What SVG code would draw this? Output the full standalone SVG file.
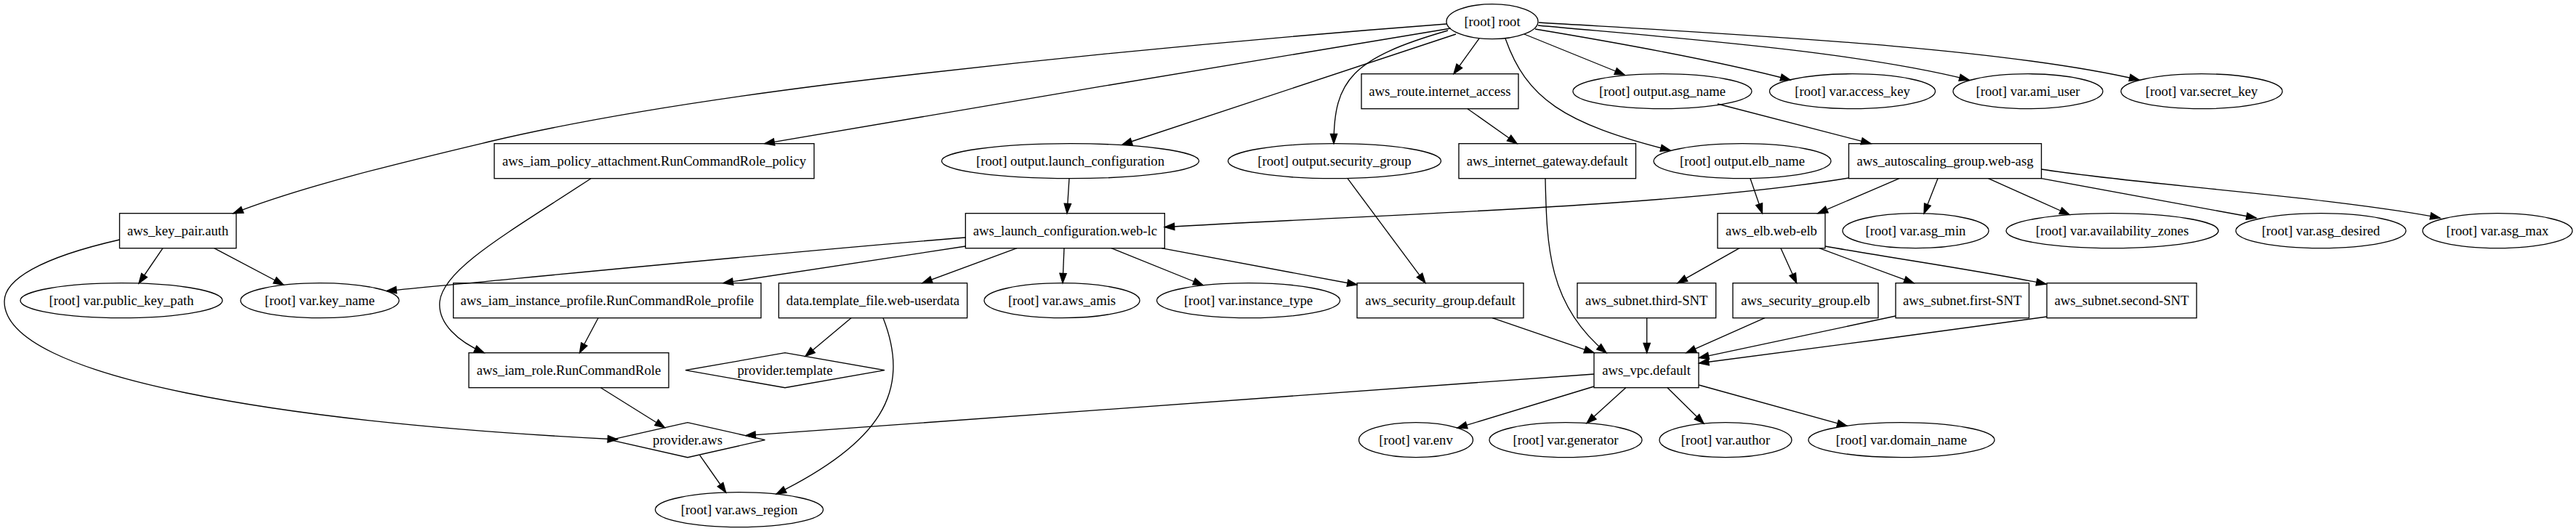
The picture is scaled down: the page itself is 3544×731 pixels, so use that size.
<svg xmlns="http://www.w3.org/2000/svg" width="3544" height="731" viewBox="0 0 3544 731">
<style>
.n ellipse,.n rect,.n polygon{fill:none;stroke:#000;stroke-width:1.33}
.n text{font-family:"Liberation Serif","Times New Roman",serif;font-size:18.67px;text-anchor:middle;fill:#000}
.e path{fill:none;stroke:#000;stroke-width:1.33;marker-end:url(#ah)}
</style>
<defs>
<marker id="ah" viewBox="0 0 13.33 9.33" refX="13.33" refY="4.67" markerWidth="13.33" markerHeight="9.33" markerUnits="userSpaceOnUse" orient="auto" overflow="visible">
<path d="M0,0 L13.33,4.67 L0,9.33 Z" fill="#000" stroke="#000" stroke-width="1.33"/>
</marker>
</defs>
<rect x="0" y="0" width="3544" height="731" fill="#fff"/>
<g id="edges" class="e">
<path d="M1990,33 C1700,55 1400,85 1150,115 C950,140 800,165 673,195 C560,222 420,255 321,293.7"/>
<path d="M1996,39 C1700,88 1350,146 1052,197.7"/>
<path d="M2003,47 L1544,199"/>
<path d="M1992,42 C1860,80 1835,110 1835,197.7"/>
<path d="M2035,53 L2000,101.7"/>
<path d="M2071,53 C2100,135 2150,170 2298,207"/>
<path d="M2097,47 L2235,103"/>
<path d="M2112,40 C2250,63 2380,88 2463,110"/>
<path d="M2116,35 C2300,52 2550,70 2709,110"/>
<path d="M2117,31 C2400,48 2750,65 2943,110"/>
<path d="M2019,149.7 L2087,197.7"/>
<path d="M2363,143 L2574,197.7"/>
<path d="M813,245.7 C700,320 610,370 605,415 C602,445 630,470 666,485.7"/>
<path d="M1471,245.7 L1468,293.7"/>
<path d="M1854,245.7 L1961,389.7"/>
<path d="M2126,245.7 C2128,340 2130,420 2210,485.7"/>
<path d="M2408,245.7 L2424.5,293.7"/>
<path d="M2543.5,245 C2300,285 1900,295 1602.3,312.7"/>
<path d="M2613,245.7 L2501,293.7"/>
<path d="M2666,245.7 L2647,294"/>
<path d="M2735.5,245.7 L2847,295.5"/>
<path d="M2808.4,245.7 L3104,300"/>
<path d="M2808.4,233 C2950,255 3200,270 3357,300"/>
<path d="M224,341.7 L191,390"/>
<path d="M294.6,341.7 L390,392"/>
<path d="M164.5,330 C55,355 6,385 6,415 C6,520 390,582 849.5,605"/>
<path d="M1328.3,327 C1100,345 800,375 532,400.5"/>
<path d="M1328.3,339 L995,389.7"/>
<path d="M1399,341.7 L1269,389.7"/>
<path d="M1464,341.7 L1462,389.7"/>
<path d="M1529,341.7 L1655,392.5"/>
<path d="M1598,341.7 L1867,392"/>
<path d="M2393,341.7 L2308,389.7"/>
<path d="M2450,341.7 L2471.7,389.7"/>
<path d="M2503,341.7 L2633,389.7"/>
<path d="M2511,339 C2620,358 2720,372 2815,391"/>
<path d="M823,437.7 L797.5,485.7"/>
<path d="M1171,437.7 L1108,490.5"/>
<path d="M1215,437.7 C1255,540 1210,610 1068,680"/>
<path d="M2053,437.7 L2193,485.7"/>
<path d="M2265.7,437.7 L2265.7,485.7"/>
<path d="M2428,437.7 L2320,485.7"/>
<path d="M2608,435 L2337.5,492.7"/>
<path d="M2816,436 C2700,453 2450,485 2337.5,500"/>
<path d="M826.5,533.7 L914.5,588.8"/>
<path d="M2193,515 L1026,599.7"/>
<path d="M2193,532 L2005,589.2"/>
<path d="M2236.7,533.7 L2183,582.6"/>
<path d="M2294,533.7 L2344,583"/>
<path d="M2337.3,530 L2541,586.3"/>
<path d="M962.7,626.7 L998.7,678"/>
</g>
<g id="root" class="n"><ellipse cx="2053" cy="29.7" rx="63" ry="24"/><text x="2053" y="35.7">[root] root</text></g>
<g id="output_asg_name" class="n"><ellipse cx="2287" cy="125.7" rx="123" ry="24"/><text x="2287" y="131.7">[root] output.asg_name</text></g>
<g id="var_access_key" class="n"><ellipse cx="2548.5" cy="125.7" rx="114" ry="24"/><text x="2548.5" y="131.7">[root] var.access_key</text></g>
<g id="var_ami_user" class="n"><ellipse cx="2790" cy="125.7" rx="103" ry="24"/><text x="2790" y="131.7">[root] var.ami_user</text></g>
<g id="var_secret_key" class="n"><ellipse cx="3029" cy="125.7" rx="111" ry="24"/><text x="3029" y="131.7">[root] var.secret_key</text></g>
<g id="aws_route_internet_access" class="n"><rect x="1873" y="101.7" width="216" height="48"/><text x="1981" y="131.7">aws_route.internet_access</text></g>
<g id="aws_iam_policy_attachment" class="n"><rect x="680" y="197.7" width="440" height="48"/><text x="900" y="227.7">aws_iam_policy_attachment.RunCommandRole_policy</text></g>
<g id="output_launch_configuration" class="n"><ellipse cx="1472.5" cy="221.7" rx="177" ry="24"/><text x="1472.5" y="227.7">[root] output.launch_configuration</text></g>
<g id="output_security_group" class="n"><ellipse cx="1836" cy="221.7" rx="146.5" ry="24"/><text x="1836" y="227.7">[root] output.security_group</text></g>
<g id="aws_internet_gateway" class="n"><rect x="2007" y="197.7" width="243.5" height="48"/><text x="2128.7" y="227.7">aws_internet_gateway.default</text></g>
<g id="output_elb_name" class="n"><ellipse cx="2397" cy="221.7" rx="122" ry="24"/><text x="2397" y="227.7">[root] output.elb_name</text></g>
<g id="aws_autoscaling_group" class="n"><rect x="2543.5" y="197.7" width="265" height="48"/><text x="2676" y="227.7">aws_autoscaling_group.web-asg</text></g>
<g id="aws_key_pair" class="n"><rect x="164.5" y="293.7" width="160.5" height="48"/><text x="244.7" y="323.7">aws_key_pair.auth</text></g>
<g id="aws_launch_configuration" class="n"><rect x="1328.3" y="293.7" width="274" height="48"/><text x="1465.3" y="323.7">aws_launch_configuration.web-lc</text></g>
<g id="aws_elb" class="n"><rect x="2363" y="293.7" width="148" height="48"/><text x="2437" y="323.7">aws_elb.web-elb</text></g>
<g id="var_asg_min" class="n"><ellipse cx="2635.5" cy="317.7" rx="100.5" ry="24"/><text x="2635.5" y="323.7">[root] var.asg_min</text></g>
<g id="var_availability_zones" class="n"><ellipse cx="2906" cy="317.7" rx="146" ry="24"/><text x="2906" y="323.7">[root] var.availability_zones</text></g>
<g id="var_asg_desired" class="n"><ellipse cx="3193" cy="317.7" rx="117" ry="24"/><text x="3193" y="323.7">[root] var.asg_desired</text></g>
<g id="var_asg_max" class="n"><ellipse cx="3436" cy="317.7" rx="103" ry="24"/><text x="3436" y="323.7">[root] var.asg_max</text></g>
<g id="var_public_key_path" class="n"><ellipse cx="167" cy="413.7" rx="139" ry="24"/><text x="167" y="419.7">[root] var.public_key_path</text></g>
<g id="var_key_name" class="n"><ellipse cx="440" cy="413.7" rx="109" ry="24"/><text x="440" y="419.7">[root] var.key_name</text></g>
<g id="aws_iam_instance_profile" class="n"><rect x="623.7" y="389.7" width="423.3" height="48"/><text x="835.3" y="419.7">aws_iam_instance_profile.RunCommandRole_profile</text></g>
<g id="data_template_file" class="n"><rect x="1071.4" y="389.7" width="259.2" height="48"/><text x="1201" y="419.7">data.template_file.web-userdata</text></g>
<g id="var_aws_amis" class="n"><ellipse cx="1461" cy="413.7" rx="107" ry="24"/><text x="1461" y="419.7">[root] var.aws_amis</text></g>
<g id="var_instance_type" class="n"><ellipse cx="1717.5" cy="413.7" rx="126" ry="24"/><text x="1717.5" y="419.7">[root] var.instance_type</text></g>
<g id="aws_security_group_default" class="n"><rect x="1867" y="389.7" width="229" height="48"/><text x="1981.5" y="419.7">aws_security_group.default</text></g>
<g id="aws_subnet_third" class="n"><rect x="2170" y="389.7" width="190.7" height="48"/><text x="2265.3" y="419.7">aws_subnet.third-SNT</text></g>
<g id="aws_security_group_elb" class="n"><rect x="2384" y="389.7" width="200" height="48"/><text x="2484" y="419.7">aws_security_group.elb</text></g>
<g id="aws_subnet_first" class="n"><rect x="2608" y="389.7" width="183.5" height="48"/><text x="2699.7" y="419.7">aws_subnet.first-SNT</text></g>
<g id="aws_subnet_second" class="n"><rect x="2816" y="389.7" width="206" height="48"/><text x="2919" y="419.7">aws_subnet.second-SNT</text></g>
<g id="aws_iam_role" class="n"><rect x="645" y="485.7" width="275" height="48"/><text x="782.5" y="515.7">aws_iam_role.RunCommandRole</text></g>
<g id="provider_template" class="n"><polygon points="943,509.7 1080,485.7 1217,509.7 1080,533.7"/><text x="1080" y="515.7">provider.template</text></g>
<g id="aws_vpc" class="n"><rect x="2193" y="485.7" width="144" height="48"/><text x="2265" y="515.7">aws_vpc.default</text></g>
<g id="provider_aws" class="n"><polygon points="839.5,605.7 946,581.7 1052.5,605.7 946,629.7"/><text x="946" y="611.7">provider.aws</text></g>
<g id="var_env" class="n"><ellipse cx="1948" cy="605.7" rx="78.5" ry="24"/><text x="1948" y="611.7">[root] var.env</text></g>
<g id="var_generator" class="n"><ellipse cx="2154" cy="605.7" rx="105" ry="24"/><text x="2154" y="611.7">[root] var.generator</text></g>
<g id="var_author" class="n"><ellipse cx="2374" cy="605.7" rx="91" ry="24"/><text x="2374" y="611.7">[root] var.author</text></g>
<g id="var_domain_name" class="n"><ellipse cx="2616" cy="605.7" rx="128" ry="24"/><text x="2616" y="611.7">[root] var.domain_name</text></g>
<g id="var_aws_region" class="n"><ellipse cx="1017" cy="701.7" rx="115.5" ry="24"/><text x="1017" y="707.7">[root] var.aws_region</text></g>
</svg>
